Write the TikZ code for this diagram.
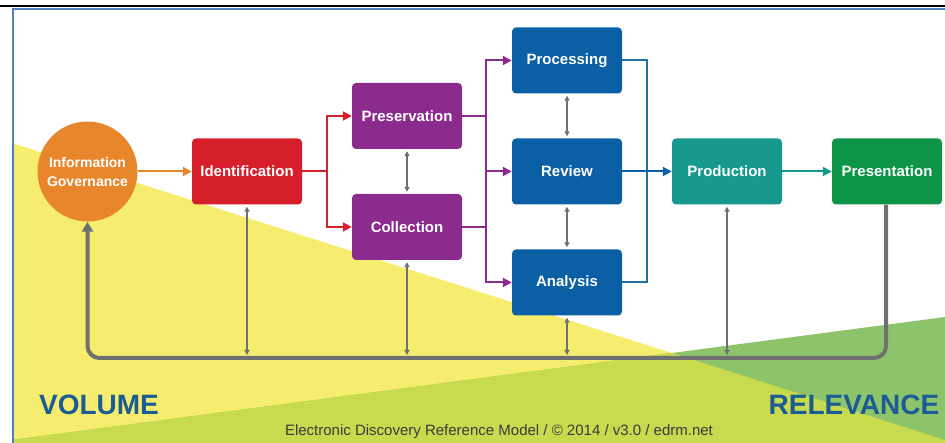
\documentclass[tikz,border=0pt]{standalone}
\usepackage{fontspec}
\setmainfont{Liberation Sans}
\usetikzlibrary{arrows.meta}
\definecolor{orangeIG}{HTML}{E8862C}
\definecolor{redID}{HTML}{D71F2B}
\definecolor{purpleP}{HTML}{8C2B8E}
\definecolor{blueP}{HTML}{0B5FA5}
\definecolor{blueL}{HTML}{1E6FA3}
\definecolor{tealP}{HTML}{16998E}
\definecolor{greenP}{HTML}{0E9447}
\definecolor{grayL}{HTML}{707070}
\definecolor{yellowBG}{HTML}{F6EC6E}
\definecolor{limeBG}{HTML}{C8DA4E}
\definecolor{greenBG}{HTML}{8DC46B}
\definecolor{volblue}{HTML}{1A5C93}
\definecolor{framblue}{HTML}{4F81BD}
\definecolor{captgray}{HTML}{3A3A3A}
\begin{document}
\begin{tikzpicture}[x=1pt,y=-1pt,
  box/.style={rounded corners=4pt, minimum width=110pt, minimum height=66pt, inner sep=0pt, text=white, font=\bfseries\fontsize{15}{17}\selectfont},
  cline/.style={line width=2pt},
  carrow/.style={line width=2pt, -{Triangle[length=9pt,width=9pt]}},
  gdbl/.style={grayL, line width=1.5pt, {Triangle[length=5pt,width=5pt]}-{Triangle[length=5pt,width=5pt]}, shorten <=2pt, shorten >=2pt},
  loopline/.style={grayL, line width=4pt, rounded corners=12pt, -{Triangle[length=10pt,width=11pt]}},
  bigword/.style={text=volblue, font=\bfseries\fontsize{28}{30}\selectfont, inner sep=0pt}]
\useasboundingbox (0,0) rectangle (945,443);
% background
\begin{scope}
\clip (13,11) rectangle (945,443);
\fill[yellowBG] (12,143) -- (945,440) -- (945,443) -- (12,443) -- cycle;
\fill[greenBG] (12,440) -- (945,317) -- (945,443) -- (12,443) -- cycle;
\begin{scope}
\clip (12,143) -- (945,440) -- (945,443) -- (12,443) -- cycle;
\fill[limeBG] (12,440) -- (945,317) -- (945,443) -- (12,443) -- cycle;
\end{scope}
\end{scope}
% frame
\draw[black, line width=2.2pt] (0,6) -- (945,6);
\draw[framblue, line width=2pt] (12.5,443) -- (12.5,9.5) -- (945,9.5);
% nodes
\node[circle, fill=orangeIG, minimum size=100pt, inner sep=0pt, align=center, text=white, font=\bfseries\fontsize{14}{19}\selectfont] (ig) at (87.5,171.5) {Information\\Governance};
\node[box, fill=redID] (id) at (247,171.5) {Identification};
\node[box, fill=purpleP] (pres) at (407,116) {Preservation};
\node[box, fill=purpleP] (coll) at (407,227) {Collection};
\node[box, fill=blueP] (proc) at (567,60.5) {Processing};
\node[box, fill=blueP] (rev) at (567,171.5) {Review};
\node[box, fill=blueP] (ana) at (567,282.5) {Analysis};
\node[box, fill=tealP] (prod) at (727,171.5) {Production};
\node[box, fill=greenP] (pst) at (887,171.5) {Presentation};
% junction coordinates
\coordinate (rj) at (327,171.5);
\coordinate (pj) at (486,171.5);
\coordinate (bj) at (647,171.5);
\coordinate (lr) at (886,358);
\coordinate (ll) at (87.5,358);
% loop
\draw[loopline] (pst.south -| lr) -- (lr) -- (ll) -- (ig.south);
% orange
\draw[carrow, orangeIG] (ig) -- (id);
% red
\draw[cline, redID] (id.east) -- (rj);
\draw[carrow, redID] (rj) |- (pres.west);
\draw[carrow, redID] (rj) |- (coll.west);
% purple
\draw[cline, purpleP] (pres.east) -- (pres.east -| pj);
\draw[cline, purpleP] (coll.east) -- (coll.east -| pj);
\draw[carrow, purpleP] (pj) |- (proc.west);
\draw[carrow, purpleP] (pj) |- (ana.west);
\draw[carrow, purpleP] (pj) -- (rev.west);
% blue
\draw[cline, blueL] (proc.east) -| (bj);
\draw[cline, blueL] (ana.east) -| (bj);
\draw[carrow, blueP] (rev.east) -- (prod.west);
% teal
\draw[carrow, tealP] (prod) -- (pst);
% gray double arrows
\draw[gdbl] (pres.south) -- (coll.north);
\draw[gdbl] (proc.south) -- (rev.north);
\draw[gdbl] (rev.south) -- (ana.north);
\draw[gdbl, shorten >=3pt] (id.south) -- (id.south |- ll);
\draw[gdbl, shorten >=3pt] (coll.south) -- (coll.south |- ll);
\draw[gdbl, shorten >=3pt] (ana.south) -- (ana.south |- ll);
\draw[gdbl, shorten >=3pt] (prod.south) -- (prod.south |- ll);
% texts
\node[bigword] (vol) at (99,405) {VOLUME};
\node[bigword] (rel) at (854,405) {RELEVANCE};
\node[text=captgray, font=\fontsize{15}{17}\selectfont, inner sep=0pt] (cap) at (499,432) {Electronic Discovery Reference Model / © 2014 / v3.0 / edrm.net};
\end{tikzpicture}
\end{document}
